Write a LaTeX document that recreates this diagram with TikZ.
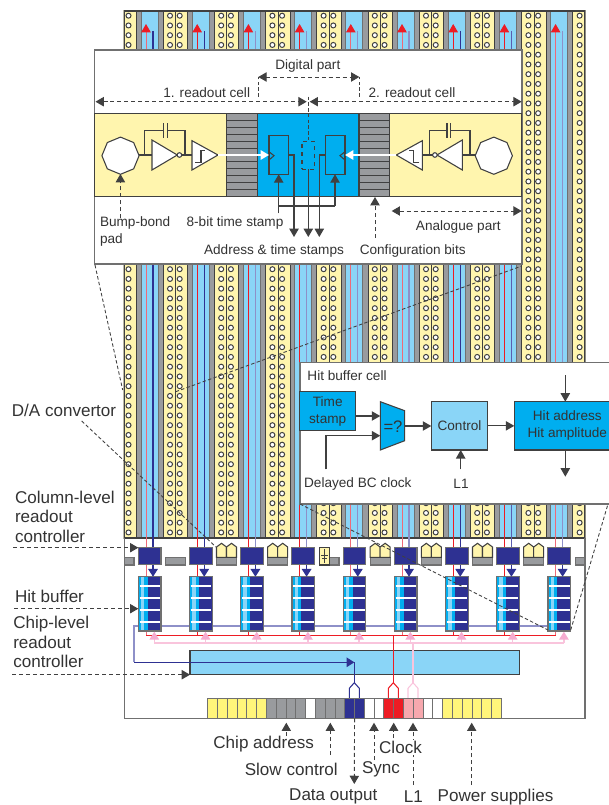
\documentclass[tikz,border=0pt]{standalone}
\usepackage{fontspec}
\setmainfont{Liberation Sans}
\usetikzlibrary{arrows.meta, positioning, calc, shapes.geometric}
\definecolor{inkgray}{HTML}{333333}
\definecolor{edgegray}{HTML}{404040}
\definecolor{framegray}{HTML}{707070}
\definecolor{chipgray}{HTML}{999B9E}
\definecolor{stripyellow}{HTML}{FFF5AE}
\definecolor{padyellow}{HTML}{FFF57A}
\definecolor{lightblue}{HTML}{8AD5F7}
\definecolor{chipblue}{HTML}{00AEEF}
\definecolor{chipnavy}{HTML}{2E3192}
\definecolor{midnavy}{HTML}{5A5DB0}
\definecolor{lavender}{HTML}{8E90C8}
\definecolor{chipred}{HTML}{ED1C24}
\definecolor{pinkred}{HTML}{EE6A78}
\definecolor{pinkline}{HTML}{F9C4DC}
\definecolor{pinktip}{HTML}{F5ABD0}
\definecolor{padpink}{HTML}{F7A8AE}

\begin{document}
\begin{tikzpicture}[
  x=0.75pt, y=-0.75pt,
  every node/.style={font=\fontsize{10.2}{12.75}\selectfont, text=inkgray, inner sep=0pt, outer sep=0pt},
  biglabel/.style={font=\fontsize{12.8}{14.4}\selectfont, align=left},
  strip/.style={draw=edgegray, line width=0.75pt},
  via/.style={draw=edgegray, fill=white, line width=0.75pt},
  insetbox/.style={draw=framegray, fill=white, line width=0.9pt},
  part/.style={draw=edgegray, line width=0.8pt},
  ffbox/.style={draw=edgegray, line width=0.8pt, minimum width=14.8pt, minimum height=29pt},
  cellbox/.style={draw=edgegray, line width=0.8pt, align=center},
  navybox/.style={draw=framegray, fill=chipnavy, line width=0.8pt, minimum width=17pt, minimum height=13.2pt},
  hitframe/.style={draw=framegray, line width=0.9pt, minimum width=17pt, minimum height=40.7pt},
  padcell/.style={draw=framegray, line width=0.7pt, minimum width=7.34pt, minimum height=15pt},
  barbox/.style={draw=framegray, fill=chipgray, line width=0.8pt},
  arrow/.style={-{Triangle[length=6.2pt, width=7pt]}, edgegray, line width=0.8pt},
  wirearrow/.style={-{Triangle[length=6.4pt, width=7pt]}, edgegray, line width=0.9pt},
  whitearrow/.style={-{Triangle[length=6.2pt, width=7pt]}, white, line width=1.2pt},
  leader/.style={-{Triangle[length=6.2pt, width=7pt]}, edgegray, line width=0.7pt, dash pattern=on 3pt off 2.2pt},
  twoleader/.style={{Triangle[length=6.2pt, width=7pt]}-{Triangle[length=6.2pt, width=7pt]}, edgegray, line width=0.7pt, dash pattern=on 3pt off 2.2pt},
  zoomline/.style={edgegray, line width=0.65pt, dash pattern=on 2.6pt off 1.7pt},
  navyarrow/.style={-{Triangle[length=5.8pt, width=7.2pt]}, chipnavy, line width=0.8pt},
  redtip/.style={-{Triangle[length=6.2pt, width=7pt, fill=chipred, color=chipred]}, line width=0.7pt},
  pinkarrow/.style={-{Triangle[length=6pt, width=7.2pt, fill=pinktip, color=pinktip]}, pinkline, line width=1pt}
]
  \useasboundingbox (0,0) rectangle (608,805);

  % Pixel array columns
  \begin{scope}
    \clip (123.7,11) rectangle (585.3,538.3);
    \foreach \i [evaluate=\i as \xl using 163.3+51.2*\i] in {-1,...,8} {
      \fill[chipgray] (\xl+24,11) rectangle (\xl+51.2,538.3);
      \draw[strip, fill=stripyellow] (\xl,5) rectangle (\xl+24.3,545);
      \draw[strip] (\xl+12.3,5) -- (\xl+12.3,545);
      \draw[strip, fill=lightblue, draw=framegray] (\xl+29,5) rectangle (\xl+46,545);
      \foreach \j in {0,...,53} {
        \draw[via] (\xl+6.7,15.7+9.75*\j) circle[radius=2.5];
        \draw[via] (\xl+16.4,15.7+9.75*\j) circle[radius=2.5];
      }
    }
    \draw[edgegray, line width=1.5pt] (123.7,11) rectangle (585.3,538.3);
  \end{scope}

  % Chip frame
  \draw[framegray, line width=1.1pt] (124.3,538) -- (124.3,718.3) -- (585,718.3) -- (585,538);

  % Chip-level readout controller
  \node[draw=edgegray, fill=lightblue, line width=0.8pt, minimum width=246.98pt, minimum height=17.7pt] (chipctrl) at (354.65,662.5) {};

  % Column lines
  \foreach \i/\rc/\bc in {0/pinkred/chipnavy, 1/chipred/chipnavy, 2/chipred/lavender, 3/chipred/lavender, 4/pinkred/lavender, 5/pinkred/lavender, 6/chipred/chipnavy, 7/chipred/midnavy, 8/pinkred/lavender} {
    \draw[\rc, redtip] (146+51.2*\i,635.3) -- (146+51.2*\i,24);
    \draw[\bc, line width=0.8pt] (153+51.2*\i,31) -- (153+51.2*\i,548);
  }

  % Readout buses
  \draw[lavender, line width=0.9pt] (562,626) -- (134,626) -- (134,662.3);
  \draw[chipred, line width=0.8pt] (146,635.3) -- (555.6,635.3);
  \draw[pinkline, line width=1.2pt] (154.3,642.7) -- (564,642.7);
  \foreach \xx/\cc in {354.3/chipnavy, 393.3/chipred, 413/pinkline} {
    \draw[\cc, line width=0.8pt] (\xx-5,698.3) -- (\xx-5,688.3) -- (\xx,682.7) -- (\xx+5,688.3) -- (\xx+5,698.3);
  }
  \draw[chipred, line width=0.8pt] (393.3,635.3) -- (393.3,682.7);
  \draw[pinkline, line width=1pt] (413,642.7) -- (413,682.7);
  \draw[navyarrow] (134,662.3) -- (354.3,662.3);
  \draw[chipnavy, line width=0.8pt] (354.3,662.3) -- (354.3,682.7);

  % Column controllers and hit buffers
  \foreach \i [evaluate=\i as \xl using 138.3+51.2*\i] in {0,...,8} {
    \fill[chipnavy] (\xl,576.7) rectangle (\xl+22.7,631);
    \fill[chipblue] (\xl,576.7) rectangle (\xl+9.4,631);
    \fill[lightblue] (\xl+2.7,576.7) rectangle (\xl+6,631);
    \foreach \yy in {585.7,597.7,610,622} {
      \draw[white, line width=1.2pt] (\xl+1.2,\yy) -- (\xl+21.7,\yy);
    }
    \node[hitframe] (hitbuf\i) at (\xl+11.35,603.85) {};
    \node[navybox] (ctrl\i) at (\xl+11.35,556.15) {};
    \draw[navyarrow] ($(ctrl\i.south)+(3.35,0)$) -- ($(hitbuf\i.north)+(3.35,0)$);
    \draw[pinkarrow] (154.3+51.2*\i,642.7) -- (154.3+51.2*\i,631.7);
  }

  % Parts between the controllers
  \draw[barbox] (124.3,557.3) rectangle (134,565);
  \draw[barbox] (165.3,557.3) rectangle (185.3,565);
  \draw[barbox] (329.3,557.3) rectangle (339,565);
  \draw[barbox] (575.3,557.3) rectangle (585,565);
  \foreach \i [evaluate=\i as \xl using 165.3+51.2*\i] in {1,2,4,5,6,7} {
    \draw[barbox] (\xl,557.3) rectangle (\xl+20,565);
    \draw[part, fill=stripyellow] (\xl,557.3) -- (\xl,547) -- (\xl+5,543.3) -- (\xl+10,547) -- (\xl+10,557.3) -- cycle;
    \draw[part, fill=stripyellow] (\xl+10,557.3) -- (\xl+10,547) -- (\xl+15,543.3) -- (\xl+20,547) -- (\xl+20,557.3) -- cycle;
  }
  \draw[part, fill=stripyellow] (319.3,547.3) rectangle (329.3,565);
  \draw[edgegray, line width=0.55pt] (324.3,549) -- (324.3,562.7) (321,555) -- (327.6,555) (322,558) -- (326.6,558);

  % Bond pads
  \foreach \a/\b/\cc in {0/5/padyellow, 6/9/chipgray, 10/10/white, 11/13/chipgray, 14/15/chipnavy, 16/17/white, 18/19/chipred, 20/21/padpink, 22/23/white, 24/29/padyellow} {
    \foreach \i in {\a,...,\b} {
      \node[padcell, fill=\cc] (pad\i) at (212.6+9.79*\i,708.3) {};
    }
  }

  % Pad labels
  \node[biglabel] (chipaddr) at (263.7,744.3) {Chip address};
  \node[biglabel] (slowctl) at (291.3,769.3) {Slow control};
  \node[biglabel] (dataout) at (333.3,796.7) {Data output};
  \node[biglabel] (synclabel) at (381,769.3) {Sync};
  \node[biglabel] (l1label) at (413.3,796.7) {L1};
  \node[biglabel] (powerlabel) at (495.5,796.7) {Power supplies};
  \foreach \n/\xx/\yy in {adr/286.3/736, slow/330.3/755, sync/374/760, clk/393.7/738, lone/413/785, pow/471.7/785} {
    \coordinate (\n from) at (\xx,\yy);
    \coordinate (\n to) at (\xx,722.7);
    \draw[leader] (\n from) -- (\n to);
  }
  \node[biglabel, fill=white, inner sep=1pt] (clklabel) at (400.5,747.3) {Clock};
  \coordinate (dataend) at (354.3,784);
  \draw[leader] (pad14.south east) -- (dataend);

  % Left labels
  \node[biglabel] (dalabel) at (64,410.7) {D/A convertor};
  \node[biglabel, anchor=west] (collabel) at (15,516.7) {Column-level\\readout\\controller};
  \node[biglabel, anchor=west] (hitlabel) at (15,596.3) {Hit buffer};
  \node[biglabel, anchor=west] (chiplabel) at (13.3,642) {Chip-level\\readout\\controller};
  \coordinate (colfrom) at (13,547.7);
  \coordinate (hitfrom) at (14,608.7);
  \coordinate (chipfrom) at (12,674.7);
  \draw[leader] (colfrom) -- (colfrom -| ctrl0.west);
  \draw[leader] (hitfrom) -- (hitfrom -| hitbuf0.west);
  \draw[leader] (chipfrom) -- (chipfrom -| chipctrl.west);

  % Readout cell inset
  \node[insetbox, minimum width=320.75pt, minimum height=160.5pt] (topinset) at (308.2,157) {};
  \draw[part, fill=stripyellow] (94.7,113.3) rectangle (521.7,196.7);
  \foreach \xa/\xb in {226.7/257.3, 359/389.3} {
    \draw[part, fill=chipgray] (\xa,113.3) rectangle (\xb,196.7);
    \foreach \k in {1,...,11} {
      \draw[edgegray, line width=0.7pt] (\xa,113.3+6.94*\k) -- (\xb,113.3+6.94*\k);
    }
  }
  \draw[part, fill=chipblue] (257.3,113.3) rectangle (359,196.7);

  % Analogue part, drawn twice
  \foreach \n/\sx/\dx in {L/1/0pt, R/-1/460.725pt} {
    \begin{scope}[xshift=\dx, xscale=\sx]
      \draw[part] (137.7,155) -- (152,155);
      \draw[part] (144.3,155) -- (144.3,130.7) -- (163.7,130.7) (167.3,130.7) -- (185,130.7) -- (185,155);
      \draw[part] (163.7,123.3) -- (163.7,137.7) (167.3,123.3) -- (167.3,137.7);
      \draw[part, fill=white] (152,140) -- (177.3,155) -- (152,170) -- cycle;
      \draw[part, fill=white] (179.4,155) circle[radius=2.3];
      \draw[part] (181.7,155) -- (192,155);
      \draw[part, fill=white] (192,140.7) -- (218,155) -- (192,170) -- cycle;
      \draw[part] (195,162.3) -- (201,162.3) -- (201,150.7) -- (205,150.7);
      \node[regular polygon, regular polygon sides=8, shape border rotate=22.5, minimum size=27.9pt, draw=edgegray, fill=white, line width=0.8pt] (bump\n) at (120.5,155.7) {};
    \end{scope}
  }

  % Digital part
  \node[ffbox] (ffleft) at (278.85,155) {};
  \node[ffbox] (ffright) at (335.15,155) {};
  \node[ffbox, dashed, minimum width=9.5pt, minimum height=20.8pt] (delaybox) at (308.3,155.2) {};
  \draw[part] (269,151.7) -- (274,155.7) -- (269,160);
  \draw[part] (345,151.7) -- (340,155.7) -- (345,160);
  \coordinate (addrl) at (294,237);
  \coordinate (addrm) at (308.3,237);
  \coordinate (addrr) at (319.3,237);
  \coordinate (tsl) at (278.7,206);
  \coordinate (tsr) at (335,206);
  \coordinate (tsstem) at (278.7,213.3);
  \draw[arrow] (ffleft.east) -| (addrl);
  \draw[arrow] (ffright.west) -| (addrr);
  \draw[arrow] (delaybox.south) -- (addrm);
  \draw[arrow] (tsl) -- (tsl |- ffleft.south);
  \draw[arrow] (tsr) -- (tsr |- ffright.south);
  \draw[part] (tsstem) -- (tsl) -- (tsr);
  \coordinate (analogl) at (218,155);
  \coordinate (analogr) at (396.3,155);
  \draw[whitearrow] (analogl) -- (ffleft.west);
  \draw[whitearrow] (analogr) -- (ffright.east);

  % Readout cell labels
  \node (digilabel) at (307.8,65.7) {Digital part};
  \node (cella) at (206.7,92.3) {1. readout cell};
  \node (cellb) at (412,92.3) {2. readout cell};
  \node (bumplabel) [anchor=west, align=left] at (100,231) {Bump-bond\\pad};
  \node (stamplabel) at (235,223.3) {8-bit time stamp};
  \node (addrlabel) at (274,250.7) {Address \& time stamps};
  \node (conflabel) at (412.7,250.7) {Configuration bits};
  \node (analoglabel) at (458.3,226.7) {Analogue part};
  \coordinate (digiL) at (258.3,77);
  \coordinate (digiR) at (359.3,77);
  \coordinate (digiLb) at (258.3,96.7);
  \coordinate (digiRb) at (359.3,96.7);
  \coordinate (cellL) at (95.5,101.7);
  \coordinate (cellM) at (306.7,101.7);
  \coordinate (cellMb) at (309.7,101.7);
  \coordinate (cellR) at (521.7,101.7);
  \coordinate (anaL) at (391.7,211);
  \coordinate (anaR) at (521.7,211);
  \coordinate (midtop) at (308.3,96.7);
  \coordinate (bumpfrom) at (120.4,218);
  \coordinate (bumpto) at (120.4,174);
  \coordinate (conffrom) at (375,238);
  \coordinate (confto) at (375,197);
  \draw[twoleader] (digiL) -- (digiR);
  \draw[zoomline] (digiLb) -- (digiL) (digiRb) -- (digiR);
  \draw[twoleader] (cellL) -- (cellM);
  \draw[twoleader] (cellMb) -- (cellR);
  \draw[twoleader] (anaL) -- (anaR);
  \draw[zoomline] (midtop) -- (delaybox.north);
  \draw[leader] (bumpfrom) -- (bumpto);
  \draw[leader] (conffrom) -- (confto);

  % Hit buffer cell inset
  \fill[white] (300,362.3) rectangle (608,504);
  \draw[framegray, line width=0.9pt] (610,362.3) -- (300,362.3) -- (300,504) -- (610,504);
  \node (celltitle) at (347,375.3) {Hit buffer cell};
  \node[cellbox, fill=chipblue, minimum width=42pt, minimum height=29.25pt] (timestamp) at (327.7,411.2) {Time\\stamp};
  \node[cellbox, fill=lightblue, minimum width=42.3pt, minimum height=36.2pt] (control) at (459.5,425.85) {Control};
  \node[cellbox, fill=chipblue, minimum width=79.5pt, minimum height=36.2pt] (hitcell) at (567.3,425.85) {Hit address\\Hit amplitude};
  \draw[part, fill=chipblue] (380.3,401.7) -- (404.7,410.7) -- (404.7,440.7) -- (380.3,450) -- cycle;
  \node[font=\fontsize{12.5}{14}\selectfont] (mux) at (393,426.7) {=?};
  \coordinate (muxup) at (380.3,416);
  \coordinate (muxlow) at (380.3,435.7);
  \coordinate (muxout) at (404.7,426);
  \coordinate (delayfrom) at (326,469.3);
  \coordinate (l1from) at (460.7,469.3);
  \coordinate (hitfromtop) at (565.3,375);
  \coordinate (hitend) at (565.3,476.7);
  \node (delaylabel) at (357.8,484.3) {Delayed BC clock};
  \node (celll1) at (461,484.3) {L1};
  \draw[wirearrow] (timestamp.east |- muxup) -- (muxup);
  \draw[wirearrow] (delayfrom) |- (muxlow);
  \draw[wirearrow] (muxout) -- (control.west |- muxout);
  \draw[wirearrow] (control.east) -- (hitcell.west);
  \draw[wirearrow] (l1from) -- (l1from |- control.south);
  \draw[wirearrow] (hitfromtop) -- (hitfromtop |- hitcell.north);
  \draw[wirearrow] (hitfromtop |- hitcell.south) -- (hitend);

  % Zoom lines
  \draw[zoomline] (95,265) -- (122.7,390);
  \draw[zoomline] (175.7,391.7) -- (521.7,266);
  \draw[zoomline] (81.7,421) -- (216,547);
  \draw[zoomline] (300,504) -- (548,630);
  \draw[zoomline] (570.7,630) -- (608,504);
\end{tikzpicture}
\end{document}
